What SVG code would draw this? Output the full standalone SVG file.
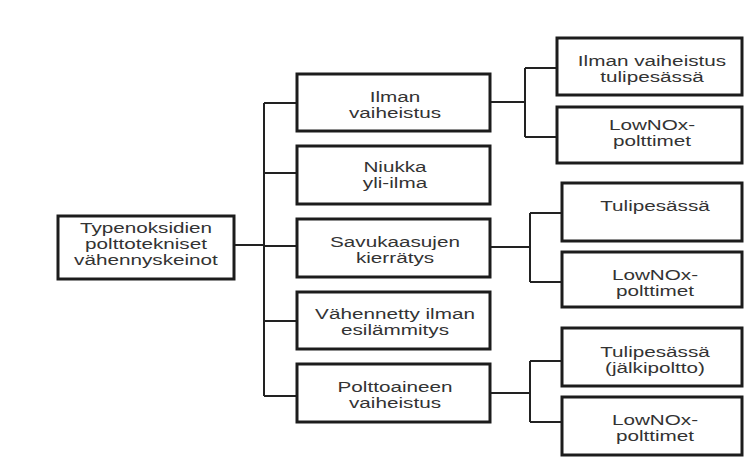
<svg xmlns="http://www.w3.org/2000/svg" width="745" height="459" viewBox="0 0 745 459">
<style>
.box{fill:#fff;stroke:#1c1c1c;stroke-width:3}
.lbl{font-family:"Liberation Sans",Arial,sans-serif;font-size:15px;fill:#333;text-anchor:middle}
.con{fill:none;stroke:#222;stroke-width:2}
</style>
<rect width="745" height="459" fill="#fff"/>
<g id="connectors">
<path class="con" d="M234 245H264M264 103V396M264 103H297M264 173H297M264 246H297M264 321H297M264 396H297"/>
<path class="con" d="M490 102H525M525 68V137M525 68H557M525 137H557"/>
<path class="con" d="M490 247H530M530 213V282M530 213H562M530 282H562"/>
<path class="con" d="M490 393H530M530 361V422M530 361H562M530 422H562"/>
</g>
<g id="root">
<rect class="box" x="58" y="216" width="176" height="63"/>
<text class="lbl" transform="translate(146,0) scale(1.38,1)"><tspan x="0" y="233">Typenoksidien</tspan><tspan x="0" y="249">polttotekniset</tspan><tspan x="0" y="265">vähennyskeinot</tspan></text>
</g>
<g id="m1">
<rect class="box" x="297" y="74" width="193" height="57"/>
<text class="lbl" transform="translate(395,0) scale(1.38,1)"><tspan x="0" y="102">Ilman</tspan><tspan x="0" y="118">vaiheistus</tspan></text>
</g>
<g id="m2">
<rect class="box" x="297" y="146" width="193" height="58"/>
<text class="lbl" transform="translate(395,0) scale(1.38,1)"><tspan x="0" y="172">Niukka</tspan><tspan x="0" y="188">yli-ilma</tspan></text>
</g>
<g id="m3">
<rect class="box" x="297" y="219" width="193" height="58"/>
<text class="lbl" transform="translate(395,0) scale(1.38,1)"><tspan x="0" y="247">Savukaasujen</tspan><tspan x="0" y="263">kierrätys</tspan></text>
</g>
<g id="m4">
<rect class="box" x="297" y="292" width="193" height="57"/>
<text class="lbl" transform="translate(395,0) scale(1.38,1)"><tspan x="0" y="319">Vähennetty ilman</tspan><tspan x="0" y="335">esilämmitys</tspan></text>
</g>
<g id="m5">
<rect class="box" x="297" y="364" width="193" height="58"/>
<text class="lbl" transform="translate(395,0) scale(1.38,1)"><tspan x="0" y="392">Polttoaineen</tspan><tspan x="0" y="408">vaiheistus</tspan></text>
</g>
<g id="rA">
<rect class="box" x="557" y="38" width="185" height="57"/>
<text class="lbl" transform="translate(652,0) scale(1.38,1)"><tspan x="0" y="66">Ilman vaiheistus</tspan><tspan x="0" y="82">tulipesässä</tspan></text>
</g>
<g id="rB">
<rect class="box" x="557" y="107" width="185" height="56"/>
<text class="lbl" transform="translate(652,0) scale(1.38,1)"><tspan x="0" y="130">LowNOx-</tspan><tspan x="0" y="146">polttimet</tspan></text>
</g>
<g id="rC">
<rect class="box" x="562" y="183" width="180" height="58"/>
<text class="lbl" transform="translate(655,0) scale(1.38,1)"><tspan x="0" y="211">Tulipesässä</tspan></text>
</g>
<g id="rD">
<rect class="box" x="562" y="252" width="180" height="55"/>
<text class="lbl" transform="translate(655,0) scale(1.38,1)"><tspan x="0" y="280">LowNOx-</tspan><tspan x="0" y="296">polttimet</tspan></text>
</g>
<g id="rE">
<rect class="box" x="562" y="328" width="180" height="58"/>
<text class="lbl" transform="translate(655,0) scale(1.38,1)"><tspan x="0" y="357">Tulipesässä</tspan><tspan x="0" y="373">(jälkipoltto)</tspan></text>
</g>
<g id="rF">
<rect class="box" x="562" y="397" width="180" height="58"/>
<text class="lbl" transform="translate(655,0) scale(1.38,1)"><tspan x="0" y="425">LowNOx-</tspan><tspan x="0" y="441">polttimet</tspan></text>
</g>
</svg>
